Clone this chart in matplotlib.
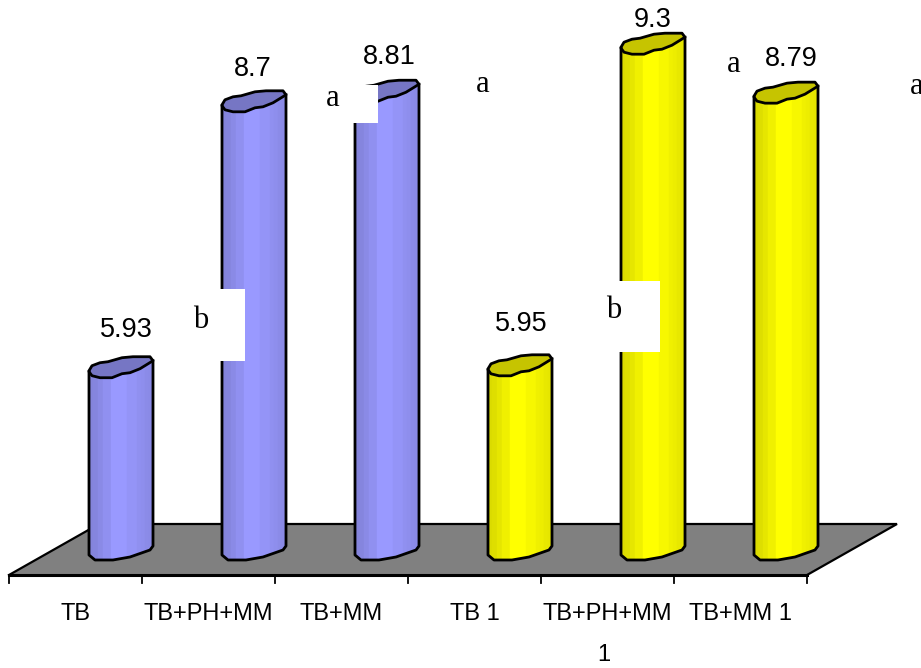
import numpy as np
import matplotlib
matplotlib.use('Agg')
import matplotlib.pyplot as plt
from matplotlib.patches import Polygon, Rectangle

# data
categories = ['TB', 'TB+PH+MM', 'TB+MM', 'TB 1', 'TB+PH+MM', 'TB+MM 1']
values = [5.93, 8.7, 8.81, 5.95, 9.3, 8.79]
series_name = '1'
letters = ['b', 'a', 'a', 'b', 'a', 'a']

# px position of value labels above the bar top (by eye)
label_dx = [5, -1, 2, 1, 0, 5]
label_up = [42, 37, 38, 46, 28, 38]
letter_xy = [(201, 320), (333, 99), (483, 85), (614, 311), (734, 65), (917, 87)]
white_boxes = [(186, 289, 59, 72), (330, 85, 48, 38), (604, 281, 56, 71)]

W, H = 921, 668
STEP = 133.0     # px per category
UNIT = 96.0      # px per value unit
Y_MIN = 4
X0 = 75.5        # px of first category
Y0 = 557.0       # px of value 4

fig = plt.figure(figsize=(W / 100, H / 100), dpi=100)
ax = fig.add_axes([0, 0, 1, 1])
ax.set_xlim((0 - X0) / STEP, (W - X0) / STEP)
ax.set_ylim(Y_MIN - (H - Y0) / UNIT, Y_MIN + Y0 / UNIT)
ax.axis('off')

dx = lambda p: p / STEP
dy = lambda p: p / UNIT

# floor
n = len(categories)
front = Y_MIN - dy(18)
back = front + dy(51)
depth = dx(90)
left, right = -0.5, n - 0.5
ax.add_patch(Polygon([(left, front), (right, front), (right + depth, back), (left + depth, back)],
                     closed=True, fc='#808080', ec='none', zorder=1))
ax.plot([left, left + depth, right + depth, right], [front, back, back, front],
        color='black', lw=1.6, zorder=2, solid_joinstyle='miter')
ax.plot([left, right], [front, front], color='black', lw=2.2, zorder=2)
for i in range(n + 1):
    ax.plot([i - 0.5, i - 0.5], [front, front - dy(8)], color='black', lw=1.3, zorder=2)

# shape of a column, px from its left edge (x) and from left top/base point (y, up)
cap_up_x = [0, 3, 11, 19, 33, 44, 61, 64]
cap_up_y = [1, 6, 9, 10, 14, 15, 15, 11]
cap_lo_x = [0, 3, 11, 23, 33, 41, 51, 64]
cap_lo_y = [0, -4, -6, -6, -2, -1, 3, 11]
base_x = [0, 6, 24, 41, 61, 64]
base_y = [2, -3, -3, 0, 7, 11]

shade_pos = np.array([0, 4, 9, 14, 22, 30, 38, 42, 48, 52, 56, 60, 64])
shade_k = [0.86, 0.87, 0.90, 0.94, 1.0, 1.0, 0.97, 0.97, 0.94, 0.93, 0.91, 0.90]
col_rgb = {0: (153, 153, 255), 1: (255, 255, 0)}
cap_col = {0: '#7676C4', 1: '#C6C400'}


def draw_column(i, v, group):
    x_l = i + dx(45.5 - 32)
    c = np.array(col_rgb[group]) / 255
    top_px = lambda xs: np.interp(xs, cap_lo_x, cap_lo_y)
    bot_px = lambda xs: np.interp(xs, base_x, base_y)
    # vertical stripes for the shading
    for a, b, k in zip(shade_pos[:-1], shade_pos[1:], shade_k):
        pts = [(x_l + dx(a), v + dy(top_px(a))), (x_l + dx(b), v + dy(top_px(b))),
               (x_l + dx(b), Y_MIN + dy(bot_px(b))), (x_l + dx(a), Y_MIN + dy(bot_px(a)))]
        ax.add_patch(Polygon(pts, closed=True, fc=c * k, ec=c * k, lw=0.3, zorder=3))
    # cap
    cap = [(x_l + dx(p), v + dy(q)) for p, q in zip(cap_up_x, cap_up_y)]
    cap += [(x_l + dx(p), v + dy(q)) for p, q in zip(cap_lo_x[::-1], cap_lo_y[::-1])]
    ax.add_patch(Polygon(cap, closed=True, fc=cap_col[group], ec='black', lw=2.0,
                         joinstyle='round', zorder=4))
    # outline of the body
    xs = [x_l + dx(p) for p in base_x]
    ys = [Y_MIN + dy(q) for q in base_y]
    ax.plot([x_l] + xs + [x_l + dx(64)], [v] + ys + [v + dy(11)], color='black', lw=2.0,
            zorder=4, solid_joinstyle='round')
    # value label
    ax.annotate(f'{v:g}', (x_l + dx(32), v), xytext=(label_dx[i] * 0.72, label_up[i] * 0.72),
                textcoords='offset points', ha='center', va='center', fontsize=19.5,
                family='Liberation Sans', color='black', zorder=6)


for i, v in enumerate(values):
    draw_column(i, v, 0 if i < 3 else 1)

# white boxes left behind the letters
for bx, by, bw, bh in white_boxes:
    fig.add_artist(Rectangle((bx / W, 1 - (by + bh) / H), bw / W, bh / H, transform=fig.transFigure,
                             fc='white', ec='none', zorder=5))

for s, (lx, ly) in zip(letters, letter_xy):
    fig.text(lx / W, 1 - ly / H, s, ha='center', va='center', fontsize=22,
             family='Liberation Serif', color='black', zorder=7)

# axis labels
for i, s in enumerate(categories):
    ax.text(i, Y_MIN - dy(57), s, ha='center', va='center', fontsize=17,
            family='Liberation Sans', color='black')
ax.text((n - 1) / 2 + 1 + dx(63), Y_MIN - dy(98), series_name, ha='center', va='center', fontsize=17,
        family='Liberation Sans', color='black')

fig.savefig('out.png', dpi=100)
